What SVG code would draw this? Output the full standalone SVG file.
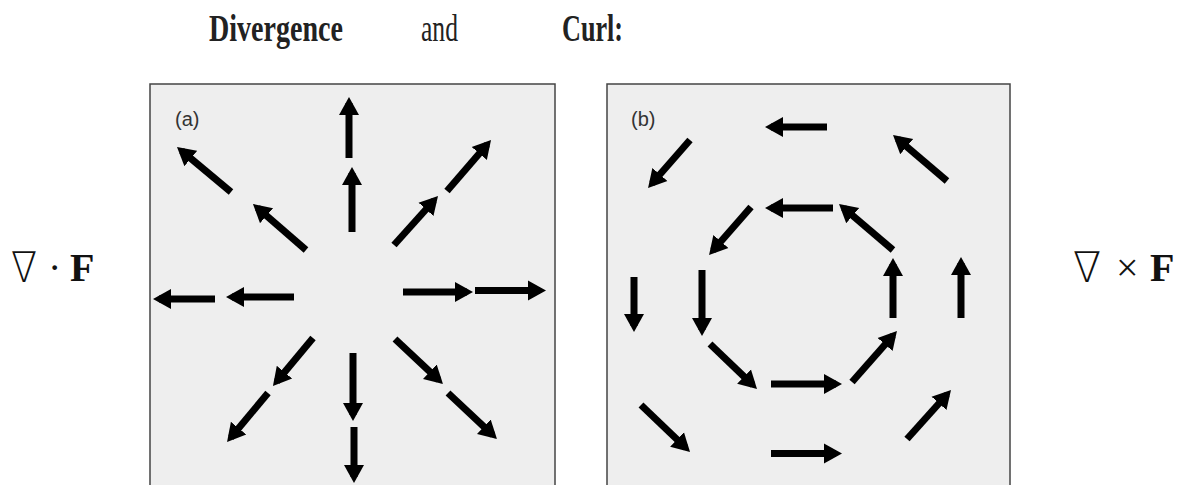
<svg xmlns="http://www.w3.org/2000/svg" width="1180" height="485" viewBox="0 0 1180 485">
  <style>
    .title { font-family: "Liberation Serif", "DejaVu Serif", serif; font-size: 38px; fill: #222; }
    .bold { font-weight: bold; }
    .math { font-family: "Liberation Serif", "DejaVu Serif", serif; font-size: 40px; fill: #111; }
    .nabla { font-family: "DejaVu Sans", sans-serif; font-weight: 200; font-size: 42px; fill: #111; }
    .panel { fill: #eeeeee; stroke: #444; stroke-width: 1.5; }
    .tag { font-family: "Liberation Sans", Arial, sans-serif; font-size: 20px; fill: #333; }
    .vec { stroke: #000; stroke-width: 7; stroke-linecap: butt; fill: none; marker-end: url(#head); }
  </style>
  <defs>
    <marker id="head" markerUnits="userSpaceOnUse" viewBox="0 -11 20 22" markerWidth="20" markerHeight="22" refX="12" refY="0" orient="auto">
      <path d="M0,-10 L18,0 L0,10 z" fill="#000"/>
    </marker>
  </defs>

  <rect width="1180" height="485" fill="#fff"/>

  <!-- heading -->
  <g id="heading">
    <text class="title bold" x="209" y="41" textLength="134" lengthAdjust="spacingAndGlyphs">Divergence</text>
    <text class="title" x="421" y="41" textLength="37" lengthAdjust="spacingAndGlyphs">and</text>
    <text class="title bold" x="562" y="41" textLength="61" lengthAdjust="spacingAndGlyphs">Curl:</text>
  </g>

  <!-- operator labels -->
  <g id="div-label">
    <text class="nabla" x="11" y="282" textLength="26" lengthAdjust="spacingAndGlyphs">∇</text>
    <text class="math" x="48" y="281">·</text>
    <text class="math bold" x="70" y="281">F</text>
  </g>
  <g id="curl-label">
    <text class="nabla" x="1073" y="282" textLength="28" lengthAdjust="spacingAndGlyphs">∇</text>
    <text class="math" x="1116" y="281">×</text>
    <text class="math bold" x="1150" y="281">F</text>
  </g>

  <!-- panel (a): radial source field -->
  <g id="panel-a">
    <rect class="panel" x="150" y="84" width="405" height="410"/>
    <text class="tag" x="175" y="126">(a)</text>
  </g>
  <g id="vectors-a">
    <line class="vec" x1="349" y1="158" x2="349" y2="103"/>
    <line class="vec" x1="352" y1="232" x2="352" y2="173"/>
    <line class="vec" x1="231" y1="192" x2="181.6" y2="150.8"/>
    <line class="vec" x1="306" y1="250" x2="257.5" y2="207.9"/>
    <line class="vec" x1="394" y1="245" x2="434" y2="200.5"/>
    <line class="vec" x1="447" y1="191" x2="487.1" y2="144.5"/>
    <line class="vec" x1="215" y1="299" x2="159" y2="299"/>
    <line class="vec" x1="294" y1="297" x2="232" y2="297"/>
    <line class="vec" x1="403" y1="292" x2="467" y2="292"/>
    <line class="vec" x1="475" y1="290.5" x2="540" y2="290.5"/>
    <line class="vec" x1="313" y1="338" x2="276.8" y2="381.4"/>
    <line class="vec" x1="268" y1="393" x2="230.9" y2="437.4"/>
    <line class="vec" x1="353" y1="353" x2="353" y2="415"/>
    <line class="vec" x1="354" y1="427" x2="354" y2="477"/>
    <line class="vec" x1="395" y1="339" x2="438.6" y2="379.9"/>
    <line class="vec" x1="448" y1="393" x2="492.6" y2="434.9"/>
  </g>

  <!-- panel (b): rotating field -->
  <g id="panel-b">
    <rect class="panel" x="607" y="84" width="403" height="410"/>
    <text class="tag" x="631" y="126">(b)</text>
  </g>
  <g id="vectors-b">
    <line class="vec" x1="827" y1="127" x2="771" y2="127"/>
    <line class="vec" x1="947" y1="181" x2="897.6" y2="138.9"/>
    <line class="vec" x1="690" y1="140" x2="652" y2="183.5"/>
    <line class="vec" x1="833" y1="208" x2="771" y2="208"/>
    <line class="vec" x1="893" y1="250" x2="843.6" y2="207.9"/>
    <line class="vec" x1="751" y1="207" x2="713" y2="250.5"/>
    <line class="vec" x1="634" y1="277" x2="634" y2="326"/>
    <line class="vec" x1="702" y1="270" x2="702" y2="330"/>
    <line class="vec" x1="893" y1="318" x2="893" y2="264"/>
    <line class="vec" x1="961" y1="318" x2="961" y2="263"/>
    <line class="vec" x1="710" y1="344" x2="752.7" y2="384.9"/>
    <line class="vec" x1="771" y1="384" x2="836" y2="384"/>
    <line class="vec" x1="852" y1="382" x2="893" y2="335.5"/>
    <line class="vec" x1="641" y1="405" x2="685.7" y2="447.8"/>
    <line class="vec" x1="771" y1="453.5" x2="836" y2="453.5"/>
    <line class="vec" x1="907" y1="439" x2="947" y2="394.5"/>
  </g>
</svg>
